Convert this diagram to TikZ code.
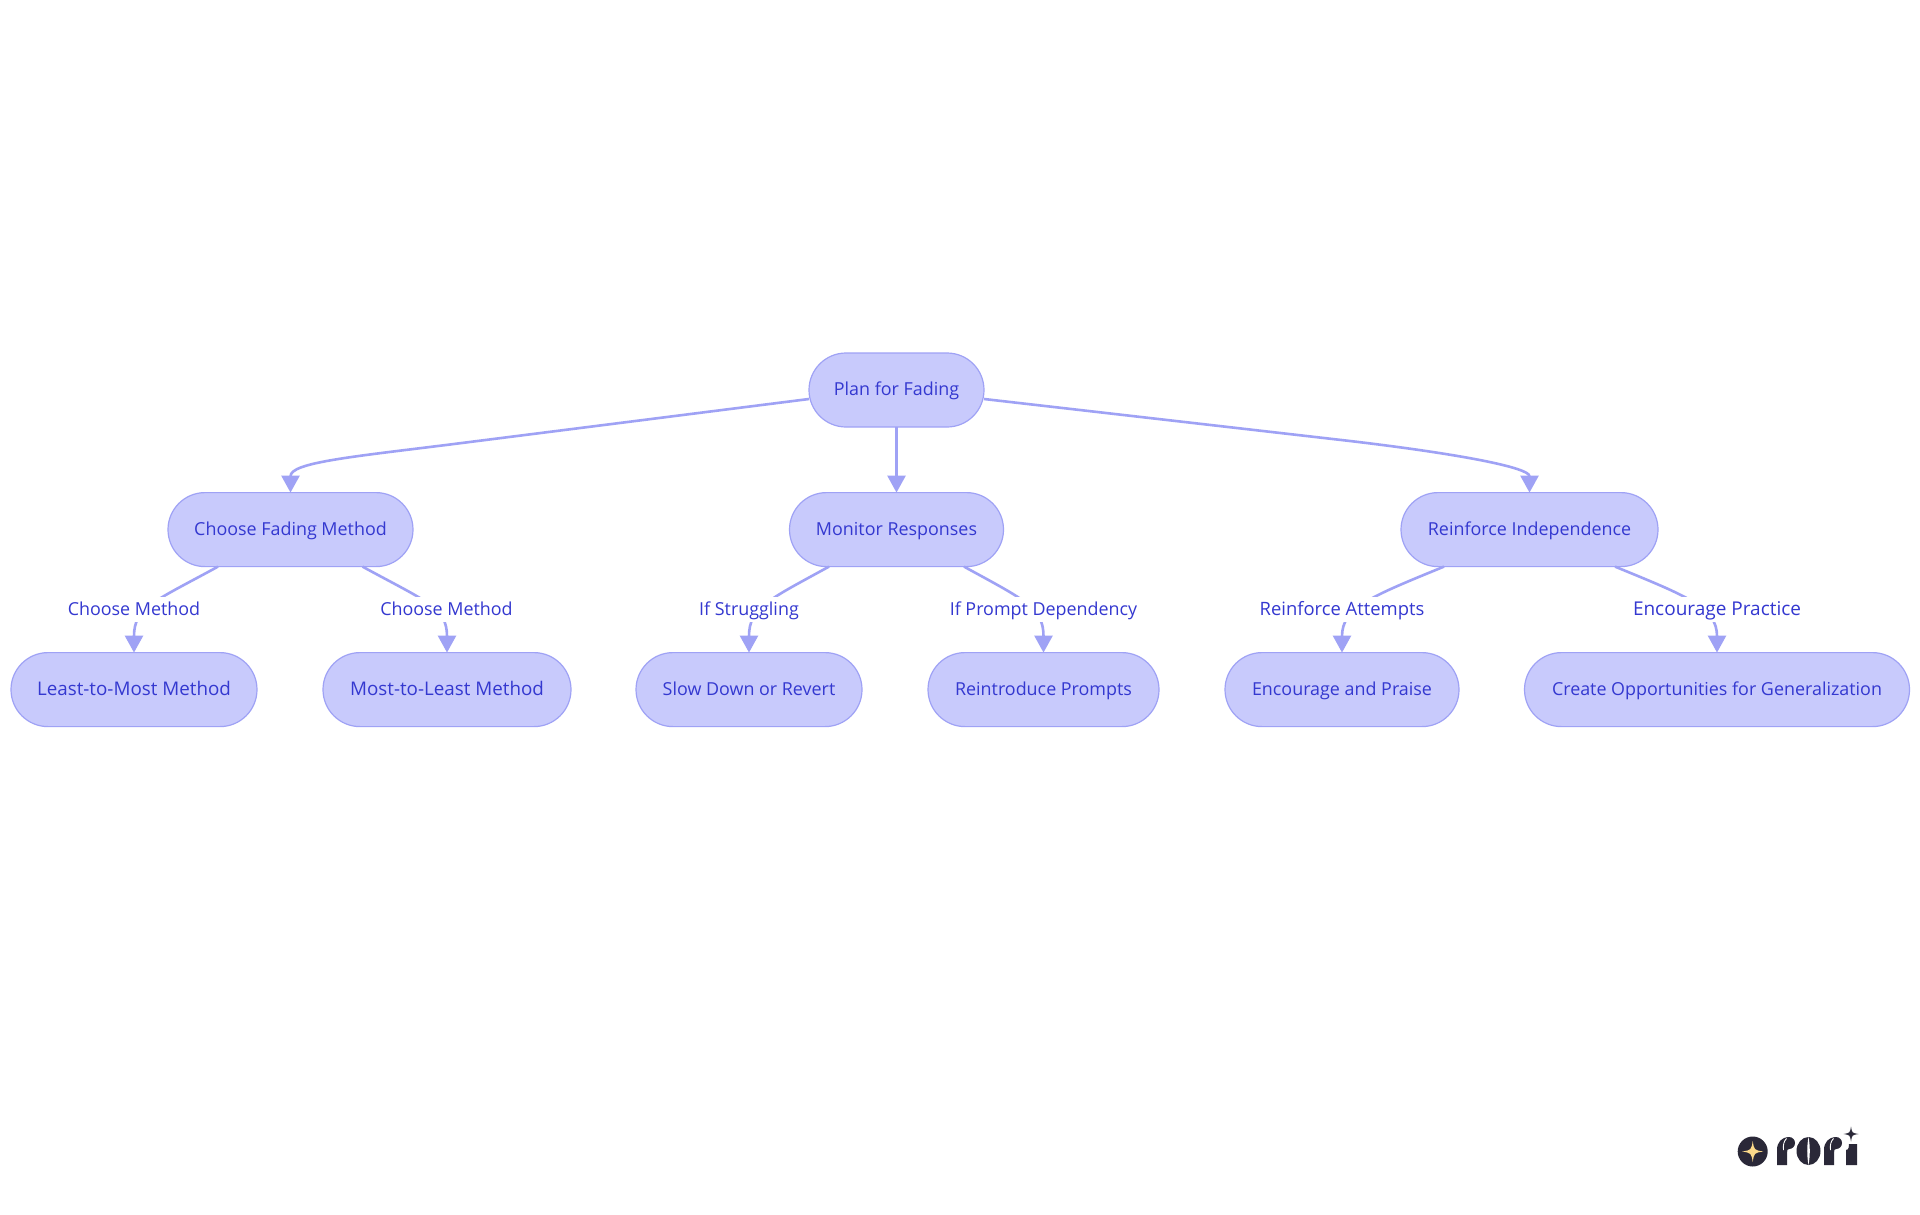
\documentclass[tikz,border=0pt]{standalone}
\usepackage{fontspec}
\setmainfont{Open Sans}
\usetikzlibrary{shapes.misc,arrows.meta}
\definecolor{nfill}{HTML}{C8CAFC}
\definecolor{nline}{HTML}{9FA2F5}
\definecolor{ntext}{HTML}{3438D0}
\definecolor{logodark}{HTML}{2A2838}
\definecolor{logostar}{HTML}{FBD98A}
\newcommand{\sparklepath}[4]{\fill[#4,shift={(#1,#2)},scale=#3] (0,-1) .. controls (.14,-.14) .. (1,0) .. controls (.14,.14) .. (0,1) .. controls (-.14,.14) .. (-1,0) .. controls (-.14,-.14) .. cycle;}
\newcommand{\rglyph}[1]{\begin{scope}[shift={(#1,0)}]
  \fill[logodark] (0,1165) -- (0,1150) .. controls (0,1142) and (5,1137) .. (12,1137) -- (12,1149) .. controls (10.5,1149) and (10,1150) .. (10,1153) -- (10,1165) -- cycle;
  \fill[logodark] (12,1143) circle[radius=6];
  \draw[white,line width=.9pt] (6.5,1150) .. controls (5.8,1145) and (7,1141) .. (9.5,1138.5);
\end{scope}}
\tikzset{
  txt/.style={font=\fontsize{#1}{22}\selectfont},
  box/.style={rounded rectangle,draw=nline,fill=nfill,line width=1.2pt,text=ntext,txt=17.9,minimum height=74pt,inner sep=0pt,outer sep=0pt,text height=15.6pt,text depth=4pt},
  edgeline/.style={draw=nline,line width=2.6pt,-{Triangle[width=18pt,length=17pt]}},
  elabel/.style={fill=white,text=ntext,txt=17.9,inner xsep=0pt,inner ysep=0pt,minimum height=25pt,text height=15.6pt,text depth=4pt}
}
\begin{document}
\begin{tikzpicture}[x=1pt,y=-1pt]
\useasboundingbox[fill=white] (0,0) rectangle (1920,1215);
\node[box,minimum width=175pt] (plan) at (896.5,390) {Plan for Fading};
\node[box,minimum width=245pt] (cf) at (290.5,529.6) {Choose Fading Method};
\node[box,minimum width=214pt] (mr) at (896.5,529.6) {Monitor Responses};
\node[box,minimum width=257pt] (ri) at (1529.5,529.6) {Reinforce Independence};
\node[box,minimum width=246pt,txt=18.8] (lm) at (134,689.6) {Least-to-Most Method};
\node[box,minimum width=248pt,txt=18.8] (ml) at (447,689.6) {Most-to-Least Method};
\node[box,minimum width=226pt] (sd) at (749,689.6) {Slow Down or Revert};
\node[box,minimum width=231pt] (rp) at (1043.5,689.6) {Reintroduce Prompts};
\node[box,minimum width=234pt] (ep) at (1342,689.6) {Encourage and Praise};
\node[box,minimum width=385pt] (co) at (1717,689.6) {Create Opportunities for Generalization};

\draw[edgeline] ([yshift=-9pt]plan.west) -- ++(-359,45.5) .. controls +(-100,12.5) and +(0,-30) .. (cf.north);
\draw[edgeline] (plan.south) -- (mr.north);
\draw[edgeline] ([yshift=-9pt]plan.east) -- ++(366,42) .. controls +(110,13) and +(0,-25) .. (ri.north);

\draw[edgeline] ([xshift=-72.5pt]cf.south) .. controls +(-64,35) and +(0,-45) .. (lm.north);
\draw[edgeline] ([xshift=72pt]cf.south) .. controls +(64,35) and +(0,-45) .. (ml.north);
\draw[edgeline] ([xshift=-67.5pt]mr.south) .. controls +(-60,33) and +(0,-45) .. (sd.north);
\draw[edgeline] ([xshift=67.5pt]mr.south) .. controls +(60,33) and +(0,-45) .. (rp.north);
\draw[edgeline] ([xshift=-85.5pt]ri.south) .. controls +(-73,30) and +(0,-45) .. (ep.north);
\draw[edgeline] ([xshift=85.5pt]ri.south) .. controls +(73,30) and +(0,-45) .. (co.north);

\node[elabel] (l1) at (134,609.5) {Choose Method};
\node[elabel] (l2) at (446.5,609.5) {Choose Method};
\node[elabel] (l3) at (749,609.5) {If Struggling};
\node[elabel] (l4) at (1043.5,609.5) {If Prompt Dependency};
\node[elabel,txt=18.4] (l5) at (1342,609.5) {Reinforce Attempts};
\node[elabel,txt=19] (l6) at (1717,609.5) {Encourage Practice};

% logo
\fill[logodark] (1752.7,1151.5) circle[radius=15];
\sparklepath{1752.7}{1151.5}{10.5}{logostar}
\rglyph{1777}
\fill[logodark] (1808.5,1151) ellipse[x radius=12,y radius=14];
\fill[white] (1808.5,1137) .. controls (1806.8,1146) and (1806.8,1156) .. (1808.5,1165) .. controls (1810.2,1156) and (1810.2,1146) .. (1808.5,1137) -- cycle;
\rglyph{1824}
\fill[logodark] (1846,1165) -- (1846,1150) .. controls (1849,1150) and (1849,1146) .. (1849,1144) -- (1857,1144) -- (1857,1165) -- cycle;
\sparklepath{1851}{1134}{7.5}{logodark}
\end{tikzpicture}
\end{document}
